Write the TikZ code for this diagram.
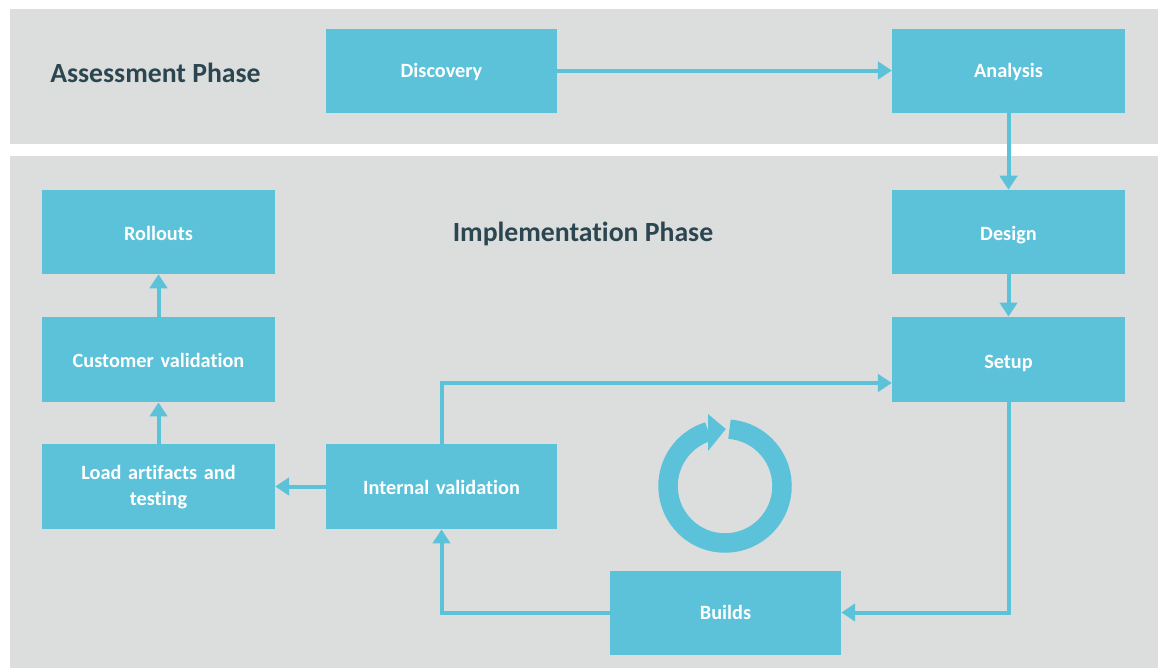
\documentclass[tikz,border=0pt]{standalone}
\usepackage{fontspec}
\setmainfont{Carlito}[Ligatures=CommonOff]
\usetikzlibrary{arrows.meta,positioning}
\definecolor{panelgrey}{HTML}{DCDDDD}
\definecolor{boxblue}{HTML}{5CC2DA}
\definecolor{titledark}{HTML}{2B4650}
\tikzset{
  panel/.style={fill=panelgrey,draw=none},
  stagebox/.style={fill=boxblue,draw=none,minimum width=174.5pt,minimum height=63pt,inner sep=0pt,
    text=white,font=\fontsize{15.2}{19.5}\selectfont\bfseries,align=center,text width=165pt,
    text height=11pt,text depth=0pt},
  tallbox/.style={stagebox,minimum height=64pt},
  narrowbox/.style={minimum width=173.2pt},
  phase/.style={text=titledark,font=\fontsize{20.8}{24}\selectfont\bfseries,inner sep=0pt},
  flow/.style={draw=boxblue,line width=3pt,-{Triangle[length=10.5pt,width=13pt]}}
}
\begin{document}
\begin{tikzpicture}[x=0.75pt,y=-0.75pt]
\useasboundingbox (0,0) rectangle (1160,668);
\fill[white] (0,0) rectangle (1160,668);
\fill[panel] (10,9) rectangle (1158,144);
\fill[panel] (10,156) rectangle (1158,668);
\node[phase] (assess) at (155.5,73) {Assessment Phase};
\node[phase] (impl) at (583,234) {Implementation Phase};
\node[stagebox,narrowbox] (discovery) at (441.5,70.5) {Discovery};
\node[stagebox] (analysis) at (1008.5,70.5) {Analysis};
\node[stagebox,text height=13pt] (design) at (1008.5,232) {Design};
\node[tallbox,text height=13pt] (setup) at (1008.5,359.5) {Setup};
\node[stagebox,text height=12pt] (rollouts) at (158.5,232) {Rollouts};
\node[tallbox,text height=12pt] (customer) at (158.5,359.5) {Customer validation};
\node[tallbox,text height=10pt,text depth=19.8pt] (load) at (158.5,486.5) {Load artifacts and\\testing};
\node[tallbox,narrowbox,text height=12pt] (internal) at (441.5,486.5) {Internal validation};
\node[stagebox,narrowbox] (builds) at (725.5,612.5) {Builds};
\draw[flow] (discovery) -- (analysis);
\draw[flow] (analysis) -- (design);
\draw[flow] (design) -- (setup);
\draw[flow] (setup.south) |- (builds.east);
\draw[flow] (builds.west) -| (internal.south);
\draw[flow] (internal.north) |- ([yshift=-17.6pt]setup.west);
\draw[flow] (internal) -- (load);
\draw[flow] (load) -- (customer);
\draw[flow] (customer) -- (rollouts);
% cycle symbol
\draw[boxblue,line width=14.6pt] (729.5,429.2) arc[start angle=-85.5,end angle=253,radius=57];
\fill[boxblue] (725.8,429) -- (708,414) -- (708,451) -- cycle;
\end{tikzpicture}
\end{document}
